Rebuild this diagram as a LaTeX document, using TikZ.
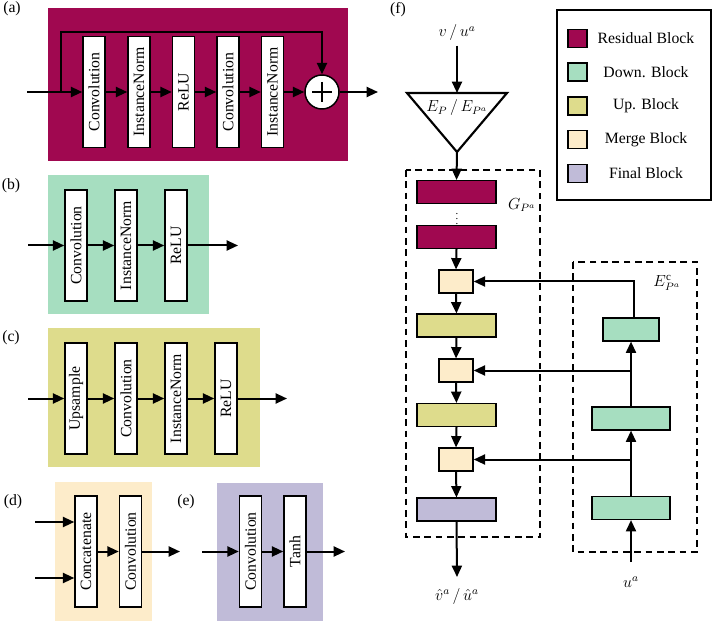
\documentclass[tikz,border=0pt]{standalone}
\usepackage{fontspec}
\setmainfont{Liberation Serif}
\usetikzlibrary{arrows.meta}

\definecolor{residc}{RGB}{160,8,80}
\definecolor{downc}{RGB}{166,222,192}
\definecolor{upc}{RGB}{222,220,140}
\definecolor{mergec}{RGB}{253,236,202}
\definecolor{finalc}{RGB}{192,187,216}

\begin{document}
\begin{tikzpicture}[x=0.75pt, y=-0.75pt,
    font=\fontsize{11.8}{13}\selectfont,
    arr/.style={-{Triangle[length=8.5pt,width=7.5pt]}, line width=1.5pt},
    layer/.style={draw, line width=1.1pt, fill=white, minimum width=16.5pt,
        minimum height=83.5pt, inner sep=0pt},
    blk/.style={draw, line width=1.1pt, minimum width=59pt, minimum height=17pt, inner sep=0pt},
    mergeblk/.style={blk, fill=mergec, minimum width=25.5pt},
    grpbox/.style={draw, line width=1.1pt, dash pattern=on 5pt off 3.5pt},
    swatch/.style={draw, line width=1.1pt, minimum width=14pt, minimum height=13.5pt, inner sep=0pt}
  ]
    \useasboundingbox (0,0) rectangle (713,623);

    % (a) residual block
    \node (la) at (12,9) {(a)};
    \fill[residc] (48,8) rectangle (348,161);
    \foreach \i/\x/\t in {1/94/Convolution, 2/139/InstanceNorm, 3/183.5/ReLU,
        4/228/Convolution, 5/272.5/InstanceNorm} {
        \node[layer] (a\i) at (\x,92) {\rotatebox{90}{\t}};
      }
    \node[draw, circle, fill=white, line width=1.1pt, minimum size=25.5pt, inner sep=0pt] (sum) at (322,92) {};
    \draw[line width=1.1pt] (sum.center) ++(-10,0) -- ++(20,0);
    \draw[line width=1.1pt] (sum.center) ++(0,-10) -- ++(0,20);
    \coordinate (ain) at (27,92);
    \coordinate (askip) at (61,92);
    \coordinate (aout) at (378,92);
    \draw[arr] (ain) -- (a1.west);
    \foreach \i/\j in {1/2, 2/3, 3/4, 4/5} {
        \draw[arr] (a\i.east) -- (a\j.west);
      }
    \draw[arr] (a5.east) -- (sum.west);
    \draw[arr] (askip) -- (askip |- 0,32) -| (sum.north);
    \draw[arr] (sum.east) -- (aout);

    % (b) down block
    \node (lb) at (11,186) {(b)};
    \fill[downc] (48,175) rectangle (209,314);
    \foreach \i/\x/\t in {1/76/Convolution, 2/126/InstanceNorm, 3/176/ReLU} {
        \node[layer] (b\i) at (\x,245.5) {\rotatebox{90}{\t}};
      }
    \coordinate (bin) at (28,245.5);
    \coordinate (bout) at (238,245.5);
    \draw[arr] (bin) -- (b1.west);
    \draw[arr] (b1.east) -- (b2.west);
    \draw[arr] (b2.east) -- (b3.west);
    \draw[arr] (b3.east) -- (bout);

    % (c) up block
    \node (lc) at (11,338) {(c)};
    \fill[upc] (48,328) rectangle (260,467);
    \foreach \i/\x/\t in {1/76/Upsample, 2/126/Convolution, 3/176/InstanceNorm, 4/226/ReLU} {
        \node[layer] (c\i) at (\x,398.5) {\rotatebox{90}{\t}};
      }
    \coordinate (cin) at (28,398.5);
    \coordinate (cout) at (287,398.5);
    \draw[arr] (cin) -- (c1.west);
    \foreach \i/\j in {1/2, 2/3, 3/4} {
        \draw[arr] (c\i.east) -- (c\j.west);
      }
    \draw[arr] (c4.east) -- (cout);

    % (d) merge block
    \node (ld) at (13,502) {(d)};
    \fill[mergec] (55,482) rectangle (152,621);
    \node[layer] (d1) at (86,551.5) {\rotatebox{90}{Concatenate}};
    \node[layer] (d2) at (130.5,551.5) {\rotatebox{90}{Convolution}};
    \coordinate (din1) at (35,522);
    \coordinate (din2) at (35,578);
    \coordinate (dout) at (180,551.5);
    \draw[arr] (din1) -- (din1 -| d1.west);
    \draw[arr] (din2) -- (din2 -| d1.west);
    \draw[arr] (d1.east) -- (d2.west);
    \draw[arr] (d2.east) -- (dout);

    % (e) final block
    \node (le) at (186,502) {(e)};
    \fill[finalc] (217,483) rectangle (323,621);
    \node[layer] (e1) at (250.5,551.5) {\rotatebox{90}{Convolution}};
    \node[layer] (e2) at (295,551.5) {\rotatebox{90}{Tanh}};
    \coordinate (ein) at (202,551.5);
    \coordinate (eout) at (345,551.5);
    \draw[arr] (ein) -- (e1.west);
    \draw[arr] (e1.east) -- (e2.west);
    \draw[arr] (e2.east) -- (eout);

    % (f) whole network
    \node (lf) at (398,10) {(f)};
    \node (vin) at (457,33) {$v\,/\,u^{a}$};
    \draw[line width=1.6pt] (407,93) -- (507,93) -- (457,152) -- cycle;
    \coordinate (ttop) at (457,93);
    \coordinate (tbot) at (457,152);
    \node (elbl) at (457,108) {$E_{P}\,/\,E_{P^{a}}$};
    \draw[arr] (vin) -- (ttop);

    % generator
    \draw[grpbox] (406,170) rectangle (540,537);
    \node (glbl) at (522,205) {$G_{P^{a}}$};
    \node[blk, fill=residc] (r1) at (456.5,192) {};
    \node[blk, fill=residc] (r2) at (456.5,237) {};
    \node[inner sep=0pt, font=\footnotesize] (rdots) at (457,215) {$\vdots$};
    \node[mergeblk] (m1) at (456,281.5) {};
    \node[blk, fill=upc] (u1) at (456.5,325.5) {};
    \node[mergeblk] (m2) at (456,370.5) {};
    \node[blk, fill=upc] (u2) at (456.5,415) {};
    \node[mergeblk] (m3) at (456,459.5) {};
    \node[blk, fill=finalc] (f1) at (456.5,509.5) {};
    \node (vout) at (457,596) {$\hat{v}^{a}\,/\,\hat{u}^{a}$};
    \coordinate (fend) at (457,577);
    \draw[arr] (tbot) -- (r1.north);
    \draw[arr] (r2.south) -- (m1.north);
    \draw[arr] (m1.south) -- (u1.north);
    \draw[arr] (u1.south) -- (m2.north);
    \draw[arr] (m2.south) -- (u2.north);
    \draw[arr] (u2.south) -- (m3.north);
    \draw[arr] (m3.south) -- (f1.north);
    \draw[arr] (f1.south) -- (fend);

    % condition encoder
    \draw[grpbox] (573,262) rectangle (697,552);
    \node (eclbl) at (667,283) {$E^{\mathrm{c}}_{P^{a}}$};
    \node[blk, fill=downc, minimum width=42pt] (dn3) at (631,329.5) {};
    \node[blk, fill=downc, minimum width=58.5pt] (dn2) at (631,418.5) {};
    \node[blk, fill=downc, minimum width=58.5pt] (dn1) at (631,508) {};
    \node (uin) at (631,582) {$u^{a}$};
    \coordinate (ustart) at (631,562);
    \draw[arr] (ustart) -- (dn1.south);
    \draw[arr] (dn1.north) -- (dn2.south);
    \draw[arr] (dn2.north) -- (dn3.south);
    \draw[arr] (dn1.north |- m3.east) -- (m3.east);
    \draw[arr] (dn2.north |- m2.east) -- (m2.east);
    \draw[arr] ([xshift=2pt]dn3.north) |- (m1.east);

    % legend
    \draw[line width=1.1pt] (557,10) rectangle (711,200);
    \foreach \i/\c/\t in {0/residc/Residual Block, 1/downc/Down. Block, 2/upc/Up. Block,
        3/mergec/Merge Block, 4/finalc/Final Block} {
        \node[swatch, fill=\c] (sw\i) at (577.5,38.5+33.7*\i) {};
        \node (lg\i) at (646,38.5+33.7*\i) {\t};
      }
  \end{tikzpicture}
\end{document}
